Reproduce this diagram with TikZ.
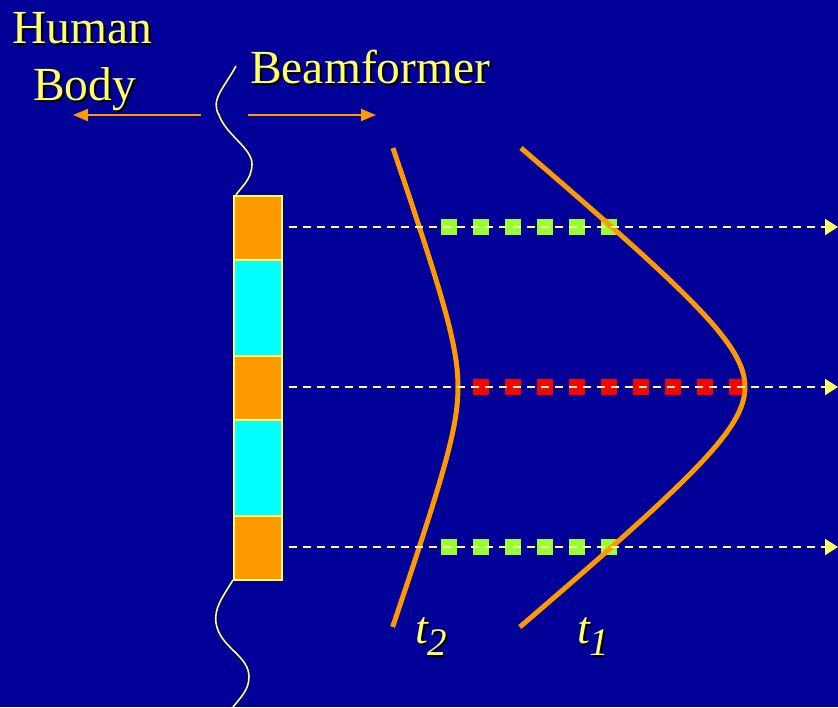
\documentclass[tikz,border=0pt]{standalone}
\usepackage{fontspec}
\setmainfont{Liberation Serif}
\usetikzlibrary{arrows.meta}
\definecolor{bgblue}{RGB}{0,0,153}
\definecolor{txtyellow}{RGB}{255,255,102}
\definecolor{dashyellow}{RGB}{255,255,153}
\definecolor{orng}{RGB}{255,153,0}
\definecolor{cyn}{RGB}{0,255,255}
\definecolor{grn}{RGB}{153,255,51}
\definecolor{rd}{RGB}{255,0,0}
\newcommand{\shad}[1]{\makebox[0pt][l]{\hspace{2pt}\raisebox{-2pt}{\color{black}#1}}#1}
\tikzset{
  lbl/.style={inner sep=0pt, anchor=base west, text=txtyellow, font=\fontsize{47.5}{47.5}\selectfont},
  tlbl/.style={inner sep=0pt, anchor=base west, text=txtyellow, font=\fontsize{46}{46}\selectfont\itshape},
  elem/.style={draw=txtyellow, line width=1.5pt, minimum width=48pt, inner sep=0pt, anchor=north west},
  beam/.style={dashyellow, line width=2pt, dash pattern=on 8pt off 6pt, -{Triangle[length=13pt,width=16pt,fill=txtyellow,color=txtyellow]}},
  dirarrow/.style={orng, line width=2pt, -{Triangle[length=15pt,width=12pt]}},
  wave/.style={txtyellow, line width=1.6pt},
  front/.style={orng, line width=5pt},
  gsq/.style={fill=grn, minimum size=16pt, inner sep=0pt},
  rsq/.style={fill=rd, minimum size=16pt, inner sep=0pt}
}
\begin{document}
\begin{tikzpicture}[x=1pt,y=-1pt]
\fill[bgblue] (0,0) rectangle (838,707);
\useasboundingbox (0,0) rectangle (838,707);

% labels with shadow
\node[lbl] (human) at (12,43) {\shad{Human}};
\node[lbl] (body) at (33,100) {\shad{Body}};
\node[lbl] (beam) at (250,83) {\shad{Beamformer}};

% direction arrows
\coordinate (la0) at (201,115);
\coordinate (la1) at (73,115);
\coordinate (ra0) at (248,115);
\coordinate (ra1) at (376,115);
\draw[dirarrow] (la0) -- (la1);
\draw[dirarrow] (ra0) -- (ra1);

% wavy boundary
\coordinate (w0) at (236,66);
\coordinate (w1) at (219,115);
\coordinate (w2) at (252,164);
\coordinate (w3) at (236,195);
\draw[wave] (w0) .. controls (224,88) and (210,100) .. (w1)
  .. controls (226,135) and (252,148) .. (w2)
  .. controls (252,180) and (240,188) .. (w3);
\coordinate (v0) at (233,580);
\coordinate (v1) at (216,623);
\coordinate (v2) at (249,677);
\coordinate (v3) at (233,707);
\draw[wave] (v0) .. controls (222,598) and (214,608) .. (v1)
  .. controls (220,648) and (249,655) .. (v2)
  .. controls (249,690) and (240,698) .. (v3);

% transducer array
\node[elem, fill=orng, minimum height=64pt] (e1) at (233,195) {};
\node[elem, fill=cyn, minimum height=96pt] (e2) at (233,259) {};
\node[elem, fill=orng, minimum height=64pt] (e3) at (233,355) {};
\node[elem, fill=cyn, minimum height=96pt] (e4) at (233,419) {};
\node[elem, fill=orng, minimum height=64pt] (e5) at (233,515) {};

% squares
\foreach \i in {0,...,5} {
  \node[gsq] (gt\i) at (449+32*\i,227) {};
  \node[gsq] (gb\i) at (449+32*\i,547) {};
}
\foreach \i in {0,...,8} {
  \node[rsq] (r\i) at (481+32*\i,387) {};
}

% wavefronts (hyperbolic)
\draw[front] plot[domain=-23.9:24, samples=60, smooth]
  ({458-3.49*(sqrt(36+\x*\x)-6)}, {387+10*\x});
\draw[front] plot[domain=-23.9:24, samples=60, smooth]
  ({745-12.017*(sqrt(36+\x*\x)-6)}, {387+10*\x});

% beams
\coordinate (b1s) at (289,227);
\coordinate (b1e) at (838,227);
\coordinate (b2s) at (289,387);
\coordinate (b2e) at (838,387);
\coordinate (b3s) at (289,547);
\coordinate (b3e) at (838,547);
\draw[beam] (b1s) -- (b1e);
\draw[beam] (b2s) -- (b2e);
\draw[beam] (b3s) -- (b3e);

% time labels
\node[tlbl] (t2) at (415,643) {\shad{t\raisebox{-12pt}{\fontsize{39}{39}\selectfont 2}}};
\node[tlbl] (t1) at (577,643) {\shad{t\raisebox{-12pt}{\fontsize{39}{39}\selectfont 1}}};
\end{tikzpicture}
\end{document}
